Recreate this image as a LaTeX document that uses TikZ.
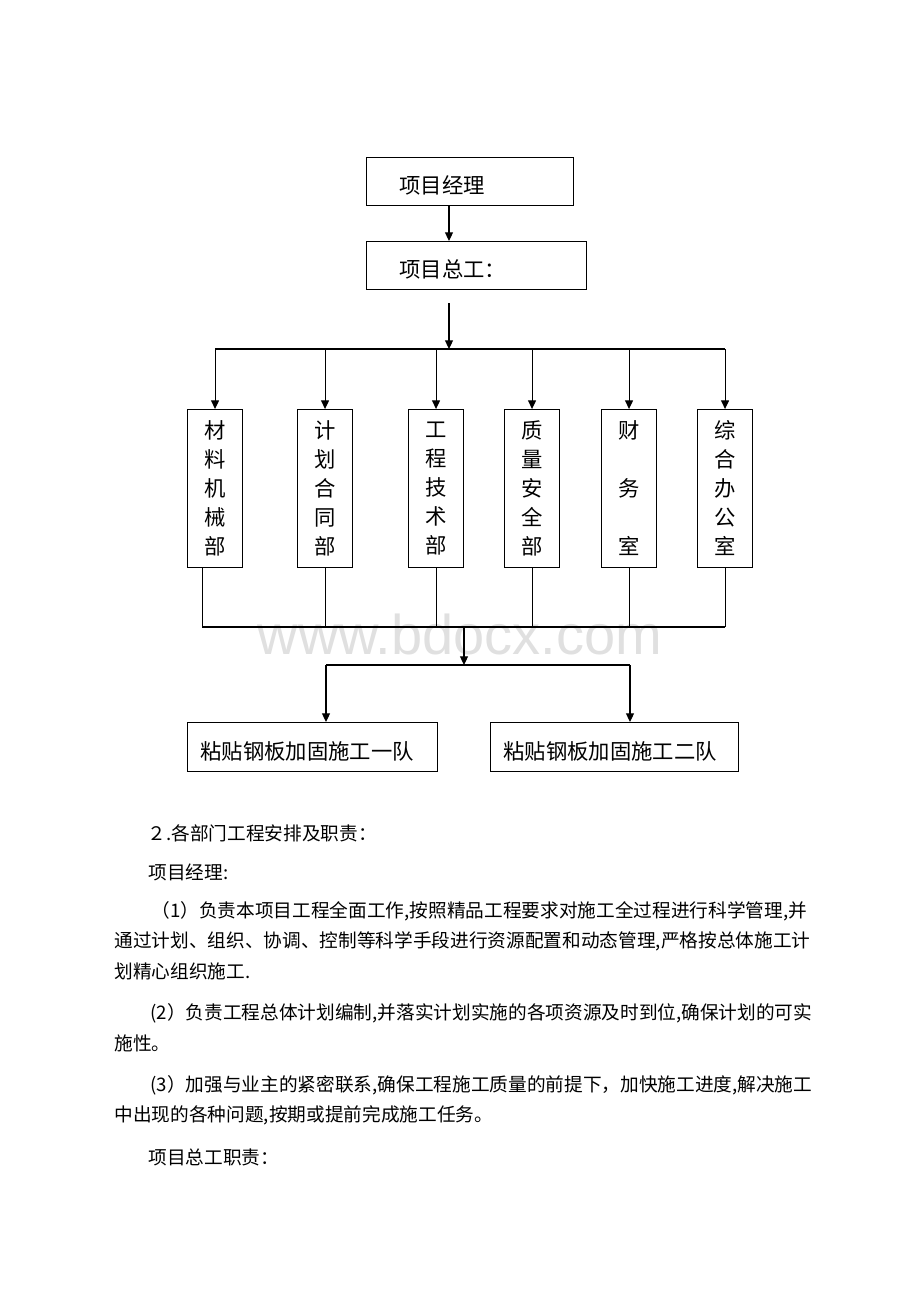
\documentclass[tikz,border=0pt]{standalone}
\usepackage{fontspec}
\setmainfont{Noto Sans CJK SC}
\newfontfamily\wmfont{Liberation Sans}
\usetikzlibrary{arrows.meta}
\newcommand{\pxu}{0.75pt}

\begin{document}
\begin{tikzpicture}[x=0.75pt,y=-0.75pt,
  line width=0.8pt,
  arr/.style={-{Triangle[length=6.5pt,width=6pt]}},
  box/.style={draw,inner ysep=0pt,anchor=north west,font=\fontsize{16}{20}\selectfont},
  headbox/.style={box,align=left,minimum height=48*\pxu,inner xsep=#1*\pxu,
    text height=18pt,text depth=0pt},
  dept/.style={box,align=center,inner xsep=0pt,minimum width=55*\pxu,
    minimum height=158*\pxu,font=\fontsize{16}{21.75}\selectfont},
  body/.style={anchor=west,inner sep=0pt,font=\fontsize{14}{17}\selectfont}]
  \useasboundingbox (0,0) rectangle (920,1302);

  % watermark
  \node[text=black!12,font=\wmfont\fontsize{42}{42}\selectfont] (wm) at (460,634) {www.bdocx.com};

  % top of the chart
  \node[headbox=33,text width=141*\pxu] (pm) at (366,157) {项目经理};
  \node[headbox=33,text width=154*\pxu] (ce) at (366,241) {项目总工：};
  \coordinate (ceout) at (449,303);
  \coordinate (split) at (449,349);
  \draw[arr] (pm.south -| split) -- (ce.north -| split);
  \draw[arr] (ceout) -- (split);

  % departments
  \foreach \x/\name/\txt in {187/d1/材\\料\\机\\械\\部,
      297/d2/计\\划\\合\\同\\部,
      408/d3/工\\程\\技\\术\\部,
      504/d4/质\\量\\安\\全\\部,
      601/d5/财\\[21.75pt]务\\[21.75pt]室,
      697/d6/综\\合\\办\\公\\室}{
    \node[dept] (\name) at (\x,409) {\txt};
  }
  \draw (d1.north |- split) -- (d6.north |- split);
  \foreach \i in {1,...,6}{
    \draw[arr] (d\i.north |- split) -- (d\i.north);
  }

  % gather below the departments
  \coordinate (merge) at (464,627);
  \coordinate (d1out) at ([xshift=-9.75pt]d1.south);
  \draw (d1out) -- (d1out |- merge);
  \foreach \i in {2,...,6}{
    \draw (d\i.south) -- (d\i.south |- merge);
  }
  \draw (d1out |- merge) -- (d6.south |- merge);

  % the two teams
  \node[headbox=13,minimum height=49*\pxu,text width=224*\pxu] (t1) at (187,722) {粘贴钢板加固施工一队};
  \node[headbox=13,minimum height=49*\pxu,text width=222*\pxu] (t2) at (490,722) {粘贴钢板加固施工二队};
  \coordinate (fork) at (464,665);
  \coordinate (ta) at (326,665);
  \coordinate (tb) at (630,665);
  \draw[arr] (merge) -- (fork);
  \draw (ta) -- (tb);
  \draw[arr] (ta) -- (ta |- t1.north);
  \draw[arr] (tb) -- (tb |- t2.north);

  % text below the chart
  \node[body] (p1) at (147,833) {２.各部门工程安排及职责：};
  \node[body] (p2) at (148,872) {项目经理:};
  \node[body] (p3) at (151,911) {（1）负责本项目工程全面工作,按照精品工程要求对施工全过程进行科学管理,并};
  \node[body] (p4) at (114,941) {通过计划、组织、协调、控制等科学手段进行资源配置和动态管理,严格按总体施工计};
  \node[body] (p5) at (114,971) {划精心组织施工.};
  \node[body] (p6) at (150,1013) {(2）负责工程总体计划编制,并落实计划实施的各项资源及时到位,确保计划的可实};
  \node[body] (p7) at (114,1043) {施性。};
  \node[body] (p8) at (150,1085) {(3）加强与业主的紧密联系,确保工程施工质量的前提下，加快施工进度,解决施工};
  \node[body] (p9) at (114,1115) {中出现的各种问题,按期或提前完成施工任务。};
  \node[body] (p10) at (148,1157) {项目总工职责：};
\end{tikzpicture}
\end{document}
